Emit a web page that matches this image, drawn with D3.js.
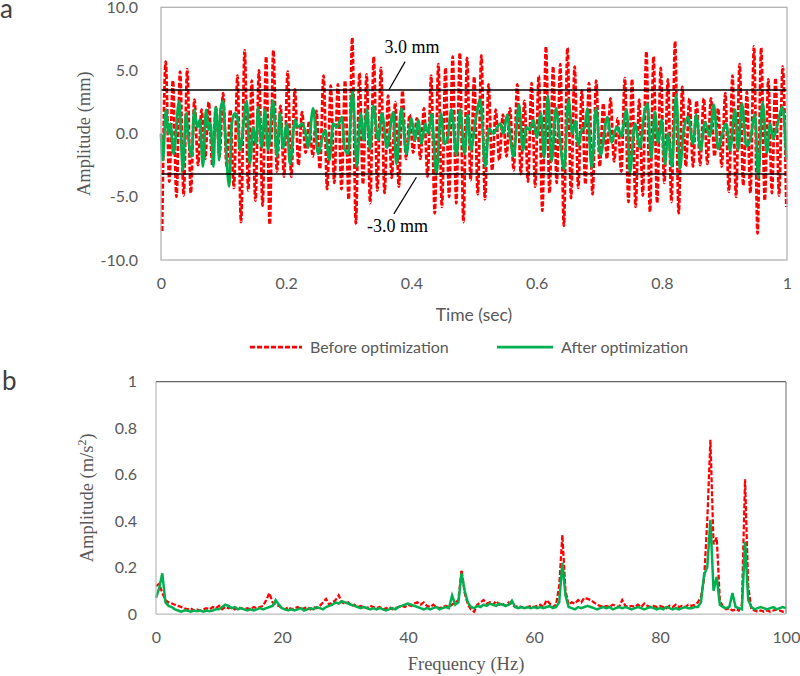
<!DOCTYPE html>
<html>
<head>
<meta charset="utf-8">
<title>Amplitude before / after optimization</title>
<style>
    body {
        margin: 0;
        background: #fff;
    }

    .tick text {
        font: 16px Lato, sans-serif;
        fill: #595959;
    }

    .serif-title {
        font-family: "Liberation Serif", "Times New Roman", serif;
        font-size: 18.5px;
        fill: #595959;
    }

    .sans-title {
        font: 17.5px Lato, sans-serif;
        fill: #595959;
    }

    .legend text {
        font: 16px Lato, sans-serif;
        fill: #595959;
    }

    .panel-tag {
        font: 26px Lato, sans-serif;
        fill: #404040;
    }

    .note {
        font-family: "Liberation Serif", "Times New Roman", serif;
        font-size: 18px;
        fill: #000;
    }

    .before {
        fill: none;
        stroke: #ff0000;
        stroke-dasharray: 5, 2;
    }

    .after {
        fill: none;
        stroke: #00b050;
    }
</style>
</head>
<body>
<svg width="800" height="676"></svg>
<script src="https://cdn.jsdelivr.net/npm/d3@7"></script>
<script>

    // ---------- panel a : time history (mm) ----------
    var timeTicks = [0, 0.2, 0.4, 0.6, 0.8, 1];
    var ampTicks = [-10, -5, 0, 5, 10];
    var limitLines = [3.45, -3.2];          // the two "3.0 mm" guide lines

    // before optimization: successive troughs / peaks of the ~87 Hz oscillation
    var beforeStart = 0.0018, beforeStep = 0.00573;
    var beforeTroughs = [
        -7.7, -3.8, -5.0, -4.9, -4.7, -2.5, -2.0, -2.5, -1.8, -2.6,
        -4.3, -7.0, -4.5, -5.3, -5.7, -7.2, -3.0, -3.4, -3.4, -2.5,
        -1.5, -1.8, -2.8, -4.4, -3.9, -4.4, -5.2, -7.1, -4.0, -5.5,
        -4.5, -4.7, -3.5, -4.2, -2.0, -1.5, -2.0, -3.4, -6.3, -5.8,
        -5.0, -5.5, -7.0, -3.7, -4.8, -5.2, -2.9, -2.1, -1.8, -2.9,
        -3.2, -3.8, -4.2, -6.1, -4.7, -3.9, -7.3, -5.1, -4.3, -4.0,
        -4.8, -2.6, -2.0, -2.2, -3.0, -5.4, -5.8, -4.9, -6.2, -5.5,
        -3.9, -5.4, -6.3, -2.6, -2.6, -2.5, -2.4, -1.8, -2.6, -4.6,
        -5.0, -4.1, -4.7, -7.9, -5.3, -4.7, -4.9, -5.8
    ];
    var beforePeaks = [
        5.7, 4.2, 4.9, 5.1, 2.7, 1.9, 2.5, 2.1, 3.2, 1.9,
        4.6, 6.6, 4.2, 5.0, 6.1, 6.6, 2.2, 4.9, 3.5, 1.7,
        1.0, 1.8, 4.6, 3.8, 3.9, 4.2, 7.6, 4.8, 4.7, 6.1,
        5.2, 3.0, 2.5, 3.4, 1.5, 1.2, 2.0, 4.6, 5.5, 5.2,
        6.1, 6.4, 6.0, 4.5, 6.2, 3.9, 1.9, 1.5, 2.0, 3.9,
        2.6, 4.0, 4.6, 6.9, 5.3, 5.5, 6.8, 5.3, 3.4, 4.0,
        4.2, 2.4, 2.8, 1.2, 4.4, 4.3, 2.7, 6.5, 6.1, 5.2,
        4.3, 7.3, 3.7, 2.8, 2.6, 2.8, 2.8, 2.0, 3.2, 4.6,
        5.5, 3.3, 6.9, 6.8, 4.3, 4.4, 5.3
    ];

    // after optimization: turning points (sec, mm)
    var afterTime = [
        0.000, 0.003, 0.008, 0.012, 0.015, 0.020, 0.029, 0.035, 0.040, 0.044,
        0.049, 0.053, 0.058, 0.062, 0.067, 0.072, 0.076, 0.079, 0.084, 0.087,
        0.091, 0.093, 0.095, 0.099, 0.102, 0.109, 0.113, 0.118, 0.122, 0.126,
        0.137, 0.142, 0.147, 0.152, 0.155, 0.161, 0.166, 0.171, 0.179, 0.185,
        0.190, 0.195, 0.201, 0.206, 0.214, 0.219, 0.225, 0.230, 0.235, 0.243,
        0.251, 0.257, 0.262, 0.269, 0.275, 0.281, 0.289, 0.293, 0.299, 0.306,
        0.313, 0.319, 0.324, 0.329, 0.334, 0.339, 0.347, 0.353, 0.361, 0.371,
        0.376, 0.384, 0.392, 0.400, 0.406, 0.411, 0.416, 0.422, 0.427, 0.432,
        0.440, 0.447, 0.453, 0.458, 0.464, 0.472, 0.478, 0.485, 0.490, 0.495,
        0.502, 0.510, 0.518, 0.524, 0.531, 0.536, 0.542, 0.547, 0.553, 0.558,
        0.563, 0.572, 0.578, 0.584, 0.589, 0.595, 0.600, 0.607, 0.612, 0.618,
        0.624, 0.631, 0.636, 0.644, 0.651, 0.657, 0.662, 0.667, 0.672, 0.677,
        0.681, 0.688, 0.695, 0.702, 0.713, 0.720, 0.725, 0.730, 0.735, 0.744,
        0.749, 0.757, 0.765, 0.772, 0.777, 0.783, 0.789, 0.794, 0.800, 0.805,
        0.810, 0.816, 0.823, 0.829, 0.835, 0.842, 0.850, 0.855, 0.862, 0.869,
        0.877, 0.883, 0.890, 0.897, 0.903, 0.909, 0.917, 0.922, 0.928, 0.935,
        0.941, 0.949, 0.954, 0.961, 0.968, 0.973, 0.978, 0.984, 0.993, 0.999
    ];
    var afterAmp = [
        0.0, -2.1, 1.9, 0.0, 0.8, -1.6, 2.6, -2.9, 1.6, -0.5,
        -1.8, 1.9, 0.5, 1.1, -2.6, 1.9, 0.3, 0.8, -2.6, 2.1,
        0.0, -2.1, 1.9, 2.6, 0.5, -4.2, 0.8, 1.6, 1.3, -1.3,
        2.6, -2.4, 0.5, -0.8, 2.1, -1.1, 1.9, -1.3, 2.6, -1.8,
        1.6, -1.1, 0.8, -2.4, 1.1, 0.5, 0.8, 0.3, -1.1, 2.0,
        -1.6, -0.5, 0.3, -2.1, 0.8, 0.5, 1.3, -1.1, -1.6, 3.4,
        -2.6, 1.6, -0.5, 1.9, -1.2, 2.2, -0.5, 1.6, -1.1, 1.7,
        -2.4, 2.0, -1.6, 1.2, -0.5, 1.1, -0.8, 0.8, 0.0, 1.6,
        -3.2, 1.6, -0.8, -0.3, 1.9, -1.7, 1.9, -1.6, 1.5, -1.3,
        0.9, 2.7, -2.6, 0.4, 0.0, 0.4, 0.8, 0.0, 1.5, -0.4,
        -1.8, 2.3, -1.3, 0.5, 0.3, 1.1, -0.3, 1.6, -1.9, 3.0,
        -2.2, 2.0, 0.0, -2.8, 2.7, 0.0, 1.0, -0.9, 0.3, 0.5,
        2.0, -2.7, 2.0, -1.7, 1.3, -0.7, 0.2, 0.5, -0.2, 1.9,
        -3.1, 0.8, -1.1, 1.6, 2.4, -1.9, 1.7, -0.7, 1.1, -2.4,
        0.0, -2.6, 3.1, -2.8, 0.3, 1.3, -0.8, 1.5, -1.3, 0.9,
        -0.2, 2.3, -1.2, 0.1, 0.8, -1.3, 1.9, -1.3, 2.4, -1.0,
        -0.5, 1.5, -3.5, 2.5, -1.5, 0.8, -0.4, 0.6, 2.1, -2.1
    ];

    // ---------- panel b : spectrum (m/s2), one value every 0.5 Hz ----------
    var freqTicks = [0, 20, 40, 60, 80, 100];
    var specTicks = [0, 0.2, 0.4, 0.6, 0.8, 1];
    var freqStep = 0.5;
    var beforeSpec = [
        0.12, 0.13, 0.09, 0.06, 0.05, 0.045, 0.04, 0.035, 0.03, 0.025,
        0.02, 0.025, 0.015, 0.02, 0.015, 0.02, 0.025, 0.02, 0.03, 0.025,
        0.035, 0.02, 0.03, 0.025, 0.03, 0.02, 0.03, 0.025, 0.02, 0.025,
        0.02, 0.03, 0.025, 0.03, 0.035, 0.06, 0.09, 0.05, 0.04, 0.035,
        0.025, 0.02, 0.03, 0.02, 0.025, 0.03, 0.02, 0.025, 0.03, 0.02,
        0.03, 0.025, 0.035, 0.05, 0.065, 0.04, 0.05, 0.06, 0.08, 0.05,
        0.045, 0.05, 0.035, 0.04, 0.03, 0.035, 0.03, 0.025, 0.035, 0.03,
        0.025, 0.03, 0.02, 0.025, 0.03, 0.02, 0.025, 0.03, 0.035, 0.03,
        0.04, 0.035, 0.045, 0.05, 0.04, 0.05, 0.035, 0.03, 0.04, 0.03,
        0.025, 0.03, 0.035, 0.03, 0.04, 0.05, 0.06, 0.19, 0.09, 0.04,
        0.02, 0.01, 0.04, 0.05, 0.06, 0.045, 0.05, 0.04, 0.055, 0.04,
        0.045, 0.035, 0.05, 0.04, 0.03, 0.035, 0.03, 0.025, 0.03, 0.035,
        0.03, 0.035, 0.04, 0.03, 0.06, 0.045, 0.03, 0.04, 0.12, 0.34,
        0.10, 0.04, 0.05, 0.045, 0.06, 0.05, 0.07, 0.065, 0.06, 0.05,
        0.04, 0.035, 0.03, 0.035, 0.03, 0.04, 0.035, 0.03, 0.06, 0.035,
        0.03, 0.035, 0.03, 0.04, 0.03, 0.045, 0.035, 0.03, 0.035, 0.03,
        0.035, 0.03, 0.025, 0.035, 0.03, 0.04, 0.03, 0.035, 0.03, 0.04,
        0.035, 0.04, 0.05, 0.075, 0.15, 0.4, 0.75, 0.3, 0.33, 0.06,
        0.03, 0.02, 0.025, 0.015, 0.02, 0.015, 0.04, 0.58, 0.12, 0.02,
        0.015, 0.01, 0.015, 0.01, 0.015, 0.01, 0.015, 0.02, 0.015, 0.01,
        0.015
    ];
    var afterSpec = [
        0.07, 0.11, 0.175, 0.05, 0.035, 0.03, 0.02, 0.015, 0.01, 0.015,
        0.015, 0.01, 0.015, 0.012, 0.015, 0.01, 0.015, 0.012, 0.015, 0.02,
        0.02, 0.03, 0.04, 0.035, 0.025, 0.03, 0.02, 0.025, 0.02, 0.015,
        0.02, 0.015, 0.02, 0.025, 0.02, 0.025, 0.03, 0.035, 0.06, 0.04,
        0.025, 0.02, 0.015, 0.02, 0.015, 0.02, 0.025, 0.015, 0.02, 0.025,
        0.02, 0.03, 0.025, 0.02, 0.03, 0.035, 0.04, 0.05, 0.045, 0.055,
        0.05, 0.045, 0.04, 0.035, 0.03, 0.025, 0.03, 0.025, 0.02, 0.025,
        0.02, 0.025, 0.02, 0.015, 0.02, 0.025, 0.02, 0.03, 0.035, 0.04,
        0.045, 0.04, 0.035, 0.03, 0.025, 0.02, 0.025, 0.02, 0.025, 0.03,
        0.02, 0.025, 0.03, 0.025, 0.08, 0.04, 0.05, 0.175, 0.1, 0.05,
        0.03, 0.025, 0.035, 0.03, 0.04, 0.035, 0.045, 0.04, 0.035, 0.045,
        0.04, 0.035, 0.04, 0.058, 0.03, 0.025, 0.03, 0.025, 0.03, 0.025,
        0.03, 0.025, 0.03, 0.025, 0.03, 0.035, 0.025, 0.03, 0.05, 0.22,
        0.08, 0.03, 0.025, 0.02, 0.03, 0.025, 0.03, 0.035, 0.03, 0.025,
        0.02, 0.025, 0.03, 0.025, 0.03, 0.02, 0.025, 0.03, 0.025, 0.03,
        0.025, 0.02, 0.025, 0.03, 0.025, 0.02, 0.025, 0.03, 0.025, 0.02,
        0.025, 0.02, 0.03, 0.025, 0.02, 0.025, 0.02, 0.025, 0.03, 0.025,
        0.025, 0.03, 0.03, 0.05, 0.17, 0.2, 0.405, 0.1, 0.16, 0.04,
        0.03, 0.025, 0.03, 0.09, 0.03, 0.025, 0.02, 0.31, 0.06, 0.03,
        0.02, 0.025, 0.03, 0.025, 0.02, 0.025, 0.03, 0.02, 0.025, 0.03,
        0.025
    ];
    var seriesNames = ["Before optimization", "After optimization"];

    var svg = d3.select("svg");

    // ======================= panel a =======================
    var a = {left: 161, right: 787, top: 7.3, bottom: 260};

    var xT = d3.scaleLinear().domain([0, 1]).range([a.left, a.right]);
    var yA = d3.scaleLinear().domain([-10, 10]).range([a.bottom, a.top]);

    var beforeAmp = [];
    beforeTroughs.forEach(function (v, i) {
        beforeAmp.push(v);
        if (i < beforePeaks.length) beforeAmp.push(beforePeaks[i]);
    });
    var beforeData = beforeAmp.map(function (v, j) {
        return {t: beforeStart + j * beforeStep, v: v};
    });
    var afterData = afterTime.map(function (t, i) {
        return {t: t, v: afterAmp[i]};
    });

    var gA = svg.append("g");

    // zero line
    gA.append("line")
        .attr("x1", xT(0)).attr("x2", xT(1))
        .attr("y1", yA(0)).attr("y2", yA(0))
        .attr("stroke", "#d0d0d0").attr("stroke-width", 1);

    var lineA = d3.line()
        .x(function (d) { return xT(d.t); })
        .y(function (d) { return yA(d.v); })
        .curve(d3.curveMonotoneX);

    gA.append("path")
        .datum(beforeData)
        .attr("class", "before")
        .attr("stroke-width", 2.75)
        .attr("d", lineA);

    gA.append("path")
        .datum(afterData)
        .attr("class", "after")
        .attr("stroke-width", 2.75)
        .attr("d", lineA);

    gA.selectAll(".limit")
        .data(limitLines)
        .enter().append("line")
        .attr("class", "limit")
        .attr("x1", xT(0)).attr("x2", xT(1))
        .attr("y1", function (d) { return yA(d); })
        .attr("y2", function (d) { return yA(d); })
        .attr("stroke", "#000").attr("stroke-width", 1.5);

    // frame
    gA.append("rect")
        .attr("x", a.left).attr("y", a.top)
        .attr("width", a.right - a.left).attr("height", a.bottom - a.top)
        .attr("fill", "none").attr("stroke", "#b0b0b0").attr("stroke-width", 1.25);

    gA.append("g")
        .attr("transform", "translate(" + a.left + ",0)")
        .call(d3.axisLeft(yA).tickValues(ampTicks).tickSize(0).tickPadding(23)
            .tickFormat(function (d) { return d.toFixed(1); }))
        .call(function (g) { g.select(".domain").remove(); });

    gA.append("g")
        .attr("transform", "translate(0," + a.bottom + ")")
        .call(d3.axisBottom(xT).tickValues(timeTicks).tickSize(0).tickPadding(18)
            .tickFormat(function (d) { return String(+d.toFixed(1)); }))
        .call(function (g) { g.select(".domain").remove(); });

    // guide annotations
    gA.append("text").attr("class", "note")
        .attr("x", xT(0.357)).attr("y", yA(6.4))
        .text("3.0 mm");
    gA.append("line")
        .attr("x1", xT(0.39)).attr("y1", yA(5.7))
        .attr("x2", xT(0.364)).attr("y2", yA(limitLines[0]))
        .attr("stroke", "#000").attr("stroke-width", 1.2);
    gA.append("text").attr("class", "note")
        .attr("x", xT(0.329)).attr("y", yA(-7.8))
        .text("-3.0 mm");
    gA.append("line")
        .attr("x1", xT(0.408)).attr("y1", yA(-3.45))
        .attr("x2", xT(0.372)).attr("y2", yA(-6.35))
        .attr("stroke", "#000").attr("stroke-width", 1.2);

    svg.append("text").attr("class", "serif-title")
        .attr("transform", "translate(90," + yA(0) + ") rotate(-90)")
        .attr("text-anchor", "middle")
        .text("Amplitude (mm)");

    svg.append("text").attr("class", "sans-title")
        .attr("x", (a.left + a.right) / 2).attr("y", 321)
        .attr("text-anchor", "middle")
        .text("Time (sec)");

    svg.append("text").attr("class", "panel-tag")
        .attr("x", 0).attr("y", 18).text("a");

    // legend
    var legend = svg.append("g").attr("class", "legend")
        .attr("transform", "translate(0,347)");
    var legendX = [[250, 302, 310], [497, 553, 561]];
    seriesNames.forEach(function (name, i) {
        legend.append("line")
            .attr("class", i === 0 ? "before" : "after")
            .attr("x1", legendX[i][0]).attr("x2", legendX[i][1])
            .attr("y1", 0).attr("y2", 0)
            .attr("stroke-width", 2.75);
        legend.append("text")
            .attr("x", legendX[i][2]).attr("y", 5.5)
            .text(name);
    });

    // ======================= panel b =======================
    var b = {left: 156, right: 786, top: 381.7, bottom: 614};

    var xF = d3.scaleLinear().domain([0, 100]).range([b.left, b.right]);
    var yS = d3.scaleLinear().domain([0, 1]).range([b.bottom, b.top]);

    var gB = svg.append("g");

    var lineB = d3.line()
        .x(function (d, i) { return xF(i * freqStep); })
        .y(function (d) { return yS(d); });

    gB.append("path")
        .datum(beforeSpec)
        .attr("class", "before")
        .attr("stroke-width", 2.25)
        .attr("d", lineB);

    gB.append("path")
        .datum(afterSpec)
        .attr("class", "after")
        .attr("stroke-width", 2.5)
        .attr("d", lineB);

    // frame: darker top and right, light left and bottom
    gB.append("line").attr("x1", b.left).attr("x2", b.right)
        .attr("y1", b.top).attr("y2", b.top)
        .attr("stroke", "#666").attr("stroke-width", 1.25);
    gB.append("line").attr("x1", b.right).attr("x2", b.right)
        .attr("y1", b.top).attr("y2", b.bottom)
        .attr("stroke", "#888").attr("stroke-width", 1.25);
    gB.append("line").attr("x1", b.left).attr("x2", b.left)
        .attr("y1", b.top).attr("y2", b.bottom)
        .attr("stroke", "#bbb").attr("stroke-width", 1.25);
    gB.append("line").attr("x1", b.left).attr("x2", b.right)
        .attr("y1", b.bottom).attr("y2", b.bottom)
        .attr("stroke", "#bbb").attr("stroke-width", 1.25);

    gB.append("g")
        .attr("transform", "translate(" + b.left + ",0)")
        .call(d3.axisLeft(yS).tickValues(specTicks).tickSize(0).tickPadding(19)
            .tickFormat(function (d) { return String(+d.toFixed(1)); }))
        .call(function (g) { g.select(".domain").remove(); });

    gB.append("g")
        .attr("transform", "translate(0," + b.bottom + ")")
        .call(d3.axisBottom(xF).tickValues(freqTicks).tickSize(0).tickPadding(18))
        .call(function (g) { g.select(".domain").remove(); });

    var ySub = svg.append("text").attr("class", "serif-title")
        .attr("transform", "translate(93," + (b.top + b.bottom) / 2 + ") rotate(-90)")
        .attr("text-anchor", "middle");
    ySub.append("tspan").text("Amplitude (m/s");
    ySub.append("tspan").attr("baseline-shift", "super").attr("font-size", "12px").text("2");
    ySub.append("tspan").text(")");

    svg.append("text").attr("class", "serif-title")
        .attr("x", 466).attr("y", 670)
        .attr("text-anchor", "middle")
        .text("Frequency (Hz)");

    svg.append("text").attr("class", "panel-tag")
        .attr("x", 2).attr("y", 390).text("b");

</script>
</body>
</html>
